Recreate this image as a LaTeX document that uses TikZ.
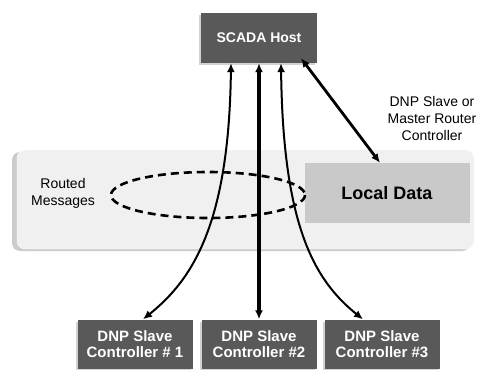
\documentclass[tikz,border=0pt]{standalone}
\usepackage{fontspec}
\setmainfont{Liberation Sans}
\usetikzlibrary{shadows,arrows.meta}
\definecolor{boxgray}{HTML}{595959}
\definecolor{bandgray}{HTML}{F0F0F0}
\definecolor{datagray}{HTML}{C9C9C9}

\begin{document}
\begin{tikzpicture}[x=1pt,y=-1pt,>={Latex[length=9pt,width=8pt]},
    host/.style={fill=boxgray,text=white,font=\bfseries\fontsize{15}{16}\selectfont,
      minimum width=115pt,minimum height=49pt,align=center,inner sep=0pt,
      drop shadow={shadow xshift=-2pt,shadow yshift=-2pt,opacity=.35}},
    lbl/.style={font=\fontsize{14}{17}\selectfont,align=center,text=black}]
            \useasboundingbox (0,0) rectangle (483,370);
            \fill[white](0,0) rectangle (483,370);

            % local network band
            \fill[black!20,rounded corners=8](12,152) rectangle (470,251);
            \draw[white,fill=bandgray,rounded corners=8](17,150) rectangle (474,249);

            \node[fill=datagray,minimum width=165pt,minimum height=60pt,
              font=\bfseries\fontsize{18}{20}\selectfont] (local) at (387,193) {Local Data};

            \node[host,minimum width=116pt,minimum height=50pt,
              font=\bfseries\fontsize{14}{15}\selectfont] (scada) at (259,38) {SCADA Host};
            \node[host] (slave1) at (135,344) {DNP Slave\\Controller \# 1};
            \node[host] (slave2) at (259,344) {DNP Slave\\Controller \#2};
            \node[host] (slave3) at (382,344) {DNP Slave\\Controller \#3};

            \node[lbl] (routed) at (63,193) {Routed\\Messages};
            \node[lbl] (router) at (432,118) {DNP Slave or\\Master Router\\Controller};

            % routed message loop
            \draw[line width=2.6pt,dash pattern=on 8pt off 5pt](208,195) ellipse (97 and 23);

            \draw[<->,line width=2pt]([xshift=-28]scada.south)
              .. controls +(-2,160) and +(50,-40) .. ([xshift=8]slave1.north);
            \draw[<->,line width=3.2pt](scada.south)--(slave2.north);
            \draw[<->,line width=2pt]([xshift=22]scada.south)
              .. controls +(2,160) and +(-50,-40) .. ([xshift=-19]slave3.north);
            \draw[<->,line width=2.8pt]([xshift=42,yshift=5]scada.south)--([xshift=-7]local.north);

        \end{tikzpicture}
\end{document}
